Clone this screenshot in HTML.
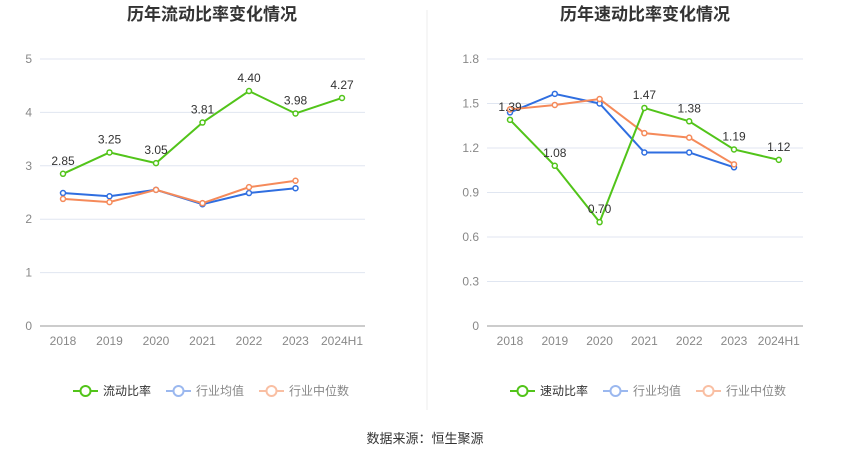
<!DOCTYPE html>
<html><head><meta charset="utf-8"><style>
body{margin:0;background:#fff;font-family:"Liberation Sans","Noto Sans CJK SC",sans-serif}
svg text{font-family:"Liberation Sans","Noto Sans CJK SC",sans-serif}
</style></head><body>
<svg id="c" width="850" height="459" viewBox="0 0 850 459">
<line x1="427" y1="10" x2="427" y2="410" stroke="#eee"/>
<text x="425" y="443" text-anchor="middle" font-size="13" fill="#333">数据来源：恒生聚源</text>
</svg>
<script>
const years=["2018","2019","2020","2021","2022","2023","2024H1"];
const currentRatio=[2.85,3.25,3.05,3.81,4.40,3.98,4.27];
const currentAvg=[2.49,2.43,2.55,2.28,2.49,2.58];
const currentMedian=[2.38,2.32,2.55,2.30,2.60,2.72];
const quickRatio=[1.39,1.08,0.70,1.47,1.38,1.19,1.12];
const quickAvg=[1.44,1.565,1.50,1.17,1.17,1.07];
const quickMedian=[1.46,1.49,1.53,1.30,1.27,1.09];
const leftTicks=[0,1,2,3,4,5];
const rightTicks=[0,0.3,0.6,0.9,1.2,1.5,1.8];
const svg=document.getElementById('c');
const NS='http://www.w3.org/2000/svg';
function mk(t,a,p){const e=document.createElementNS(NS,t);for(const k in a)e.setAttribute(k,a[k]);(p||svg).appendChild(e);return e;}
function chart(o){
  const g=mk('g',{});
  
  
  const y=v=>326-(v/o.max)*267;
  const x=i=>o.x0+i*o.step;
  const t=mk('text',{x:o.cx,y:20,'text-anchor':'middle','font-size':17,'font-weight':'bold',fill:'#333'},g);
  t.textContent=o.title;
  
  
  o.ticks.forEach(v=>{
    const l=mk('line',{x1:o.gx1,x2:o.gx2,y1:y(v),y2:y(v),stroke:v===0?'#999':'#e0e6f1'},g);
    
    
    const tt=mk('text',{x:o.gx1-8,y:y(v)+4,'text-anchor':'end','font-size':12,fill:'#888'},g);
    tt.textContent=o.fmt(v);
    
    
  });
  years.forEach((c,i)=>{
    const tt=mk('text',{x:x(i),y:345,'text-anchor':'middle','font-size':12,fill:'#888'},g);
    tt.textContent=c;
    
    
  });
  const ser=[[o.avg,'#2f6ee0','industry-average-line'],[o.med,'#f58a5a','industry-median-line'],[o.main,'#52c41a','main-ratio-line']];
  ser.forEach(([d,col,nm],si)=>{
    const p=mk('polyline',{points:d.map((v,i)=>x(i)+','+y(v)).join(' '),fill:'none',stroke:col,'stroke-width':2},g);
    
    
    d.forEach((v,i)=>{
      const c=mk('circle',{cx:x(i),cy:y(v),r:2.5,fill:'#fff',stroke:col,'stroke-width':1.5},g);
      
      
      if(si===2){
        const l=mk('text',{x:x(i),y:y(v)-9,'text-anchor':'middle','font-size':12,fill:'#333'},g);
        l.textContent=v.toFixed(2);
        
        
      }
    });
  });
  const leg=[[o.mainName,'#52c41a','#333'],['行业均值','#9bb8ef','#888'],['行业中位数','#f9bfa3','#888']];
  let lx=o.lx;
  leg.forEach(([n,col,tc])=>{
    const lg=mk('g',{},g);
    
    
    mk('line',{x1:lx,x2:lx+25,y1:391,y2:391,stroke:col,'stroke-width':2},lg);
    mk('circle',{cx:lx+12.5,cy:391,r:5,fill:'#fff',stroke:col,'stroke-width':2},lg);
    const tt=mk('text',{x:lx+30,y:395,'font-size':12,fill:tc},lg);
    tt.textContent=n;
    lx+=30+n.length*12+15;
  });
}
chart({name:'current-ratio-chart',title:'历年流动比率变化情况',cx:212,max:5,ticks:leftTicks,fmt:v=>String(v),x0:63,step:46.5,gx1:40,gx2:365,main:currentRatio,avg:currentAvg,med:currentMedian,mainName:'流动比率',lx:73});
chart({name:'quick-ratio-chart',title:'历年速动比率变化情况',cx:645,max:1.8,ticks:rightTicks,fmt:v=>v===0?'0':v.toFixed(1),x0:510,step:44.8,gx1:487,gx2:803,main:quickRatio,avg:quickAvg,med:quickMedian,mainName:'速动比率',lx:510});
</script>
</body></html>
